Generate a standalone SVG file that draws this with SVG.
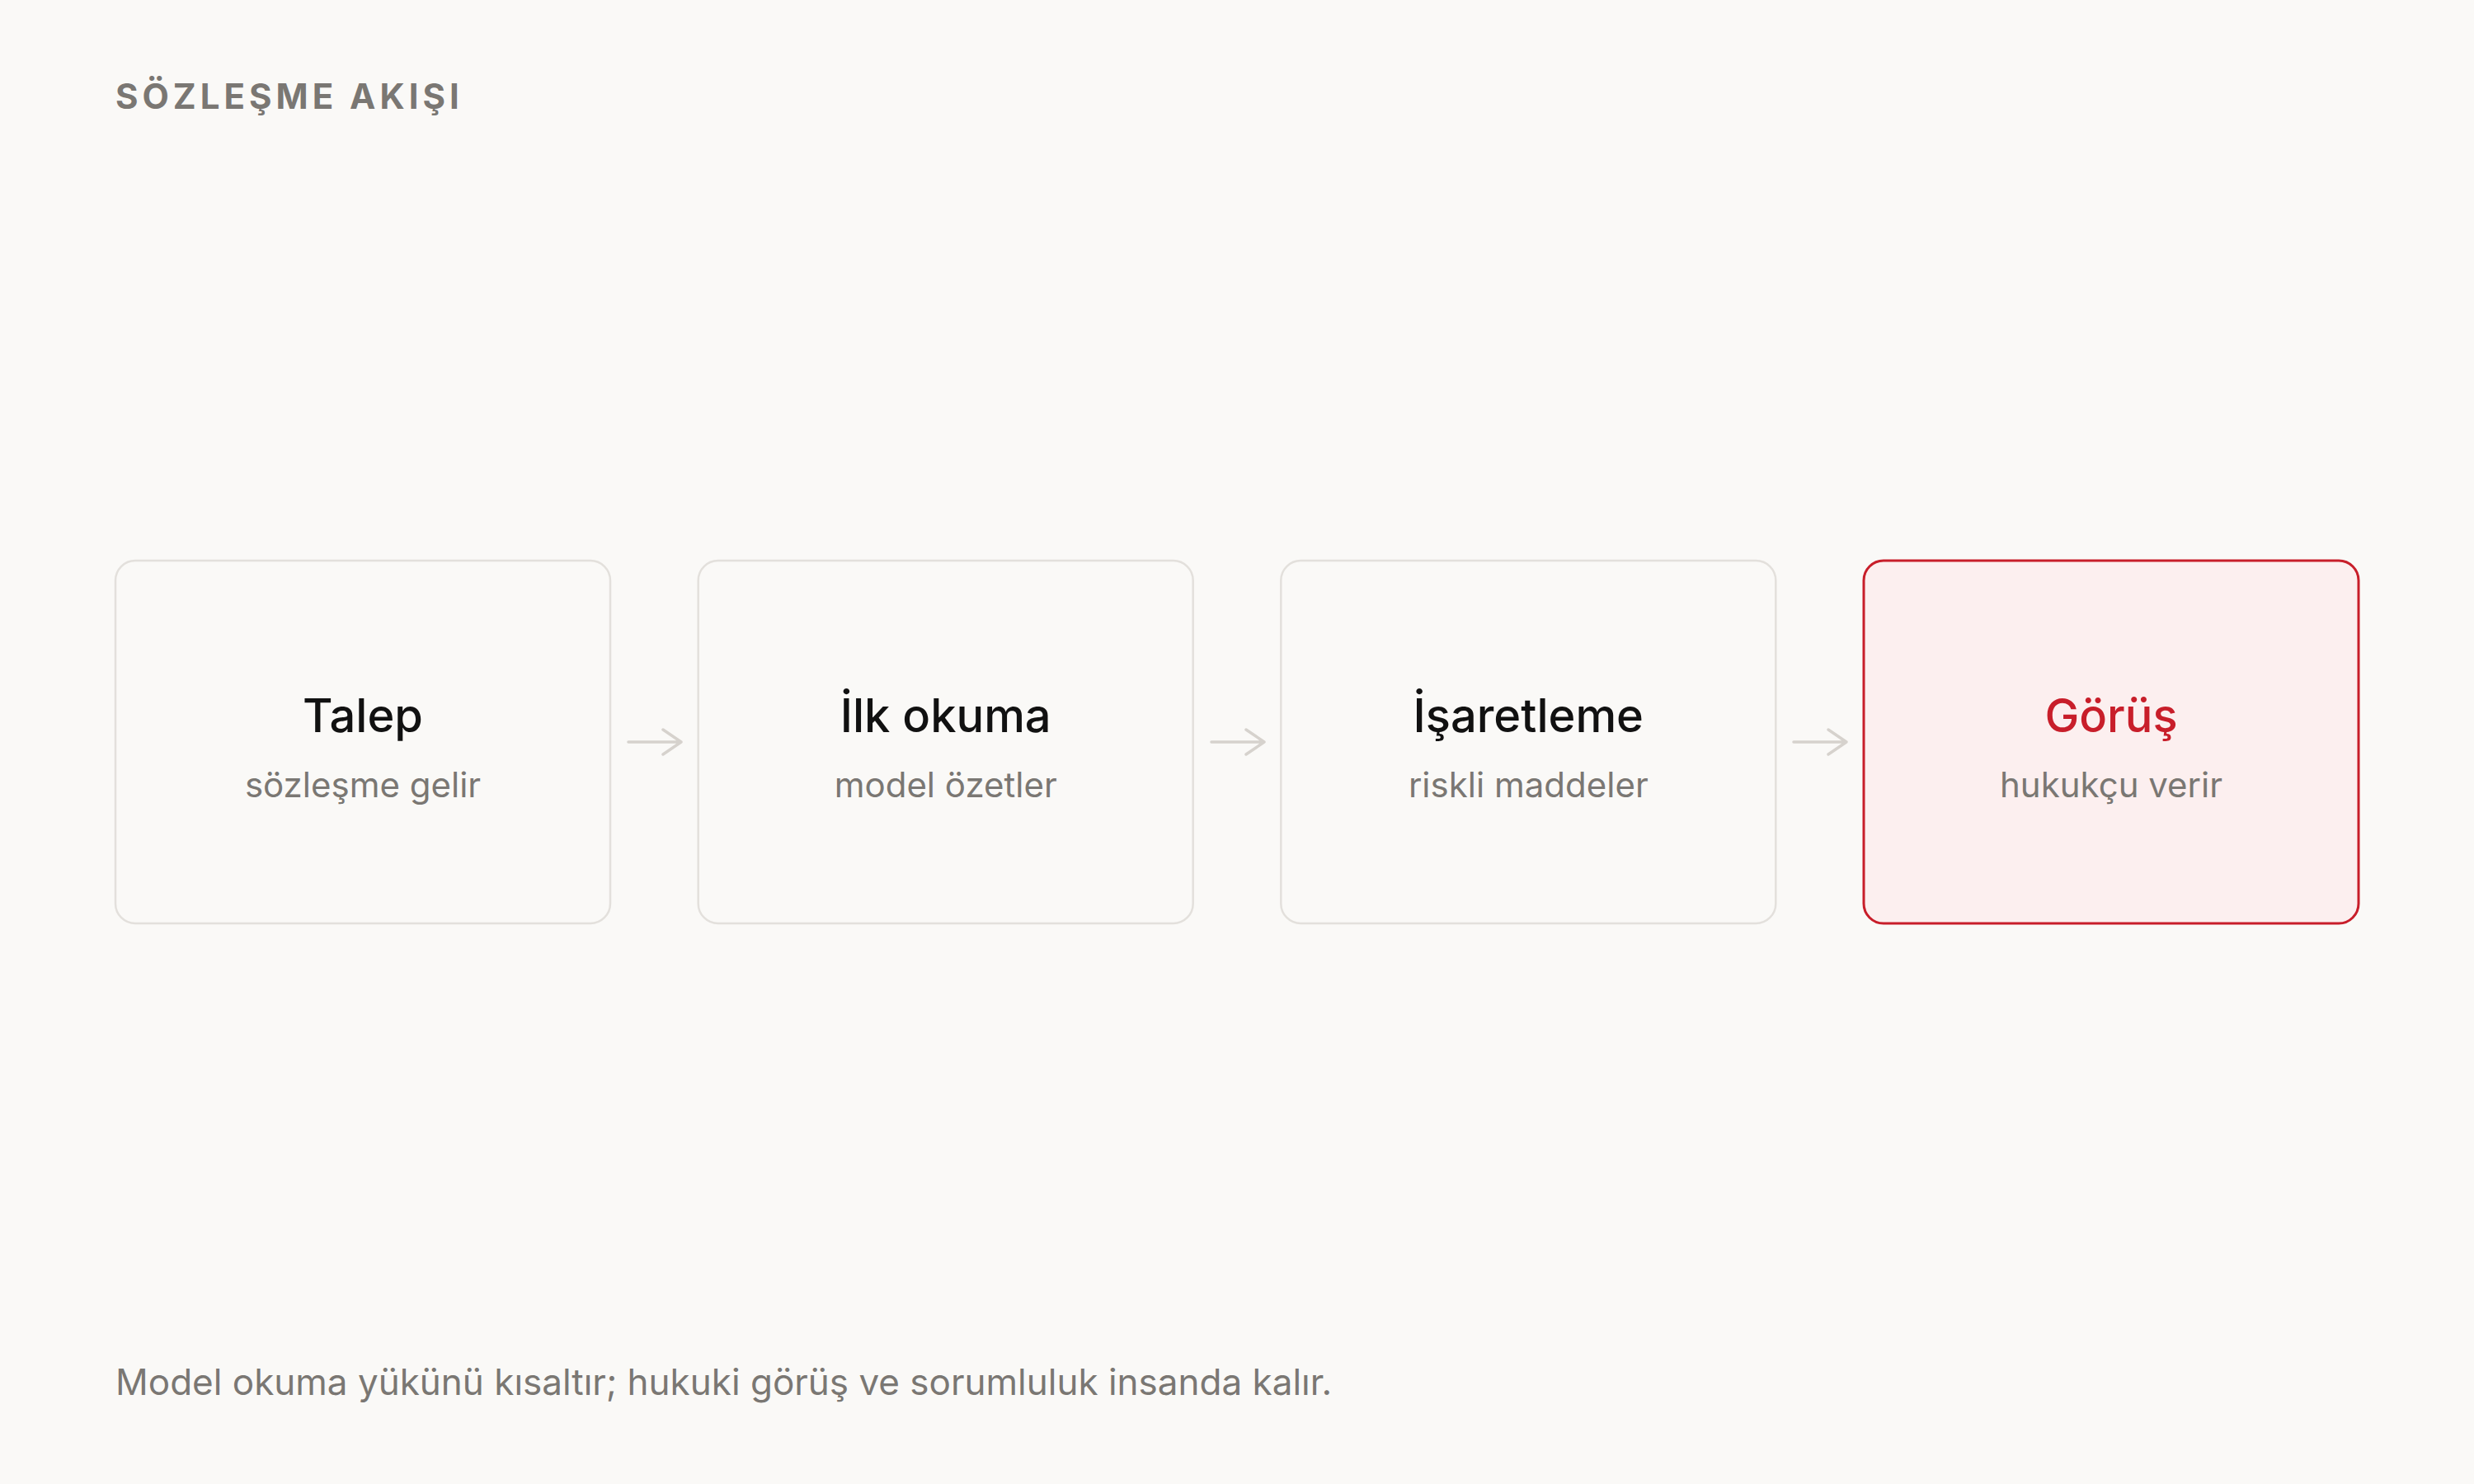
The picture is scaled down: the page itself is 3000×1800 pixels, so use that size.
<svg xmlns="http://www.w3.org/2000/svg" width="3000" height="1800" viewBox="0 0 3000 1800">
<style>
.bg{fill:#faf9f7}
.box{fill:#faf9f7;stroke:#e3e0dc;stroke-width:2.5}
.box.hl{fill:#fcefef;stroke:#c81e2a;stroke-width:3}
.h{font-family:Inter,"Noto Sans",sans-serif;font-size:56px;font-weight:500;fill:#111111;text-anchor:middle}
.h.hl{fill:#c81e2a}
.s{font-family:Inter,"Noto Sans",sans-serif;font-size:42px;font-weight:400;fill:#7a7773;text-anchor:middle}
.title{font-family:Inter,"Noto Sans",sans-serif;font-size:42px;font-weight:700;fill:#7a7773;letter-spacing:5px}
.foot{font-family:Inter,"Noto Sans",sans-serif;font-size:44px;font-weight:400;fill:#7a7773}
.arr{fill:none;stroke:#d6d2cd;stroke-width:3.5;stroke-linecap:round;stroke-linejoin:round}
</style>
<rect class="bg" x="0" y="0" width="3000" height="1800"/>
<text class="title" x="140" y="132">SÖZLEŞME AKIŞI</text>
<g id="connectors">
<path class="arr" d="M762 900 H826 M804 885 L826 900 L804 915"/>
<path class="arr" d="M1469 900 H1533 M1511 885 L1533 900 L1511 915"/>
<path class="arr" d="M2175 900 H2239 M2217 885 L2239 900 L2217 915"/>
</g>
<g id="node-talep">
<rect class="box" x="140" y="680" width="600" height="440" rx="24"/>
<text class="h" x="440" y="888">Talep</text>
<text class="s" x="440" y="967">sözleşme gelir</text>
</g>
<g id="node-ilk-okuma">
<rect class="box" x="846.7" y="680" width="600" height="440" rx="24"/>
<text class="h" x="1146.7" y="888">İlk okuma</text>
<text class="s" x="1146.7" y="967">model özetler</text>
</g>
<g id="node-isaretleme">
<rect class="box" x="1553.3" y="680" width="600" height="440" rx="24"/>
<text class="h" x="1853.3" y="888">İşaretleme</text>
<text class="s" x="1853.3" y="967">riskli maddeler</text>
</g>
<g id="node-gorus">
<rect class="box hl" x="2260" y="680" width="600" height="440" rx="24"/>
<text class="h hl" x="2560" y="888">Görüş</text>
<text class="s" x="2560" y="967">hukukçu verir</text>
</g>
<text class="foot" x="140" y="1692">Model okuma yükünü kısaltır; hukuki görüş ve sorumluluk insanda kalır.</text>
</svg>
